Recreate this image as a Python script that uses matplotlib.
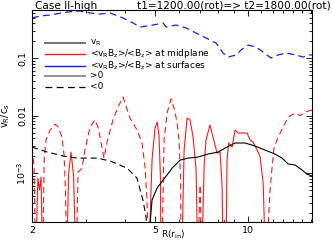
import numpy as np
import matplotlib
matplotlib.use("Agg")
import matplotlib.pyplot as plt
from matplotlib.lines import Line2D
from matplotlib.ticker import FixedLocator, NullFormatter

plt.rcParams['font.family'] = ['DejaVu Sans']
plt.rcParams['mathtext.default'] = 'regular'

# ---- data ----
R_vr = [2.0, 2.24, 2.52, 2.80, 3.25, 3.58, 4.06, 4.37, 4.57, 4.68, 4.72,
        4.75, 4.89, 5.08, 5.31, 5.59, 5.68, 6.03, 6.40, 6.89, 7.42, 8.0,
        8.55, 9.08, 9.78, 10.54, 11.35, 12.22, 12.88, 13.48, 14.2, 14.96,
        15.5, 16.1]
v_vr = [-2.83e-3, -2.32e-3, -1.98e-3, -1.82e-3, -1.82e-3, -1.62e-3, -1.22e-3,
        -8.2e-4, -3.4e-4, -1.7e-4, -5e-5,
        5e-5, 3.4e-4, 5.5e-4, 7.55e-4, 1.08e-3, 1.22e-3, 1.68e-3, 1.82e-3,
        1.90e-3, 2.14e-3, 2.32e-3, 2.83e-3, 3.33e-3, 3.33e-3, 2.95e-3,
        2.51e-3, 2.14e-3, 1.82e-3, 1.44e-3, 1.38e-3, 1.13e-3, 9.6e-4, 8.9e-4]

R_mid = [2.0, 2.03, 2.05, 2.06, 2.09, 2.115, 2.14, 2.16, 2.17, 2.19, 2.22,
         2.29, 2.375, 2.43, 2.50, 2.54, 2.566, 2.586, 2.596, 2.625, 2.674,
         2.725, 2.767, 2.787, 2.818, 2.902, 2.967, 3.08, 3.198, 3.27, 3.357,
         3.42, 3.50, 3.656, 3.795, 3.94, 4.15, 4.375, 4.54, 4.643, 4.71,
         4.75, 4.785, 4.89, 5.0, 5.08, 5.15, 5.21, 5.22, 5.27, 5.35, 5.47,
         5.635, 5.76, 5.89, 5.98, 6.05, 6.07, 6.115, 6.21, 6.35, 6.49, 6.64,
         6.79, 6.865, 6.89, 7.0, 7.07, 7.10, 7.21, 7.31, 7.53, 7.70, 7.94,
         8.12, 8.24, 8.30, 8.36, 8.39, 8.46, 8.49, 8.55, 8.65, 8.88, 9.08,
         9.29, 9.63, 9.93, 10.15, 10.38, 10.7, 10.94, 11.19, 11.35, 11.52,
         11.78, 11.96, 12.14, 12.51, 12.98, 13.48, 14.2, 14.73, 15.29, 16.1]
v_mid = [-2.7e-3, -1.4e-3, -5e-5, 5e-5, 8.2e-4, 5.06e-4, 8.5e-4, 5e-5, -5e-5,
         -1.68e-3, -3.75e-3, -5.6e-3, -7.1e-3, -6.3e-3, -4.2e-3, -2.06e-3,
         -5.06e-4, -5e-5, 5e-5, 9.2e-4, 2.32e-3, 9.2e-4, 5e-5, -5e-5,
         -1.04e-3, -1.22e-3, -2.51e-3, -6.3e-3, -8.36e-3, -6.3e-3, -3.07e-3,
         -1.82e-3, -3.46e-3, -8.36e-3, -1.41e-2, -2.1e-2, -9.06e-3, -5.6e-3,
         -3.33e-3, -1.27e-3, -3.4e-4, -5e-5, 5e-5, 1.68e-3, 6.06e-3, 7.7e-3,
         4.58e-3, 7.55e-4, 5e-5, -5e-5, -3.75e-3, -1.10e-2, -1.94e-2,
         -1.35e-2, -7.7e-3, -3.75e-3, -7.55e-4, -5e-5, 5e-5, 2.51e-3, 9.06e-3,
         8.36e-3, 4.2e-3, 1.13e-3, 5e-5, -5e-5, -6.2e-4, -5e-5, 5e-5,
         1.38e-3, 3.75e-3, 6.84e-3, 4.2e-3, 2.23e-3, 2.32e-3, 5.7e-4, 5e-5,
         -5e-5, -1.5e-4, -5e-5, 5e-5, 1.68e-3, 3.33e-3, 2.83e-3, 5.6e-3,
         4.97e-3, 4.97e-3, 4.97e-3, 3.75e-3, 3.46e-3, 2.51e-3, 1.90e-3,
         6.7e-4, 5e-5, -5e-5, -5.06e-4, -1.27e-3, -2.83e-3, -4.2e-3,
         -6.3e-3, -9.4e-3, -1.10e-2, -1.0e-2, -1.15e-2, -1.25e-2]

R_surf = [2.0, 2.12, 2.29, 2.60, 2.86, 3.08, 3.32, 3.58, 3.94, 4.25, 4.47,
          4.93, 5.31, 5.43, 5.85, 6.30, 6.79, 7.31, 7.88, 8.30, 8.62, 9.15,
          9.49, 10.0, 10.62, 11.19, 11.87, 12.51, 13.27, 14.30, 15.07, 15.76,
          16.1]
v_surf = [-0.497, -0.537, -0.56, -0.631, -0.657, -0.607, -0.582, -0.607,
          -0.497, -0.406, -0.346, -0.375, -0.406, -0.346, -0.375, -0.333,
          -0.272, -0.223, -0.182, -0.122, -0.104, -0.113, -0.138, -0.168,
          -0.155, -0.127, -0.1, -0.113, -0.122, -0.113, -0.104, -0.113,
          -0.113]

xticks_major = [2, 5, 10]
xtick_labels = ['2', '5', '10']
yticks_major = [1e-3, 1e-2, 1e-1]
ytick_labels = ['10$^{-3}$', '0.01', '0.1']

legend_labels = ['v$_R$', '<v$_R$B$_z$>/<B$_z$> at midplane',
                 '<v$_R$B$_z$>/<B$_z$> at surfaces', '>0', '<0']

# ---- figure ----
fig = plt.figure(figsize=(3.32, 2.42), dpi=100)
ax = fig.add_axes([32/332, 1-222/242, 280/332, 212/242])

DASH = (5.5, 3.5)
TINY = 1e-9


def split(v):
    v = np.asarray(v, float)
    pos = np.where(v > 0, v, TINY)
    neg = np.where(v < 0, -v, TINY)
    return pos, neg


def draw(R, v, color, lw=0.8):
    pos, neg = split(v)
    if np.any(np.asarray(v) > 0):
        ax.plot(R, pos, color=color, lw=lw, ls='-')
    if np.any(np.asarray(v) < 0):
        ax.plot(R, neg, color=color, lw=lw, ls=(0, DASH))


draw(R_mid, v_mid, '#ff1a1a', 0.8)
draw(R_vr, v_vr, 'black', 0.8)
draw(R_surf, v_surf, '#1a1aff', 0.9)

ax.set_xscale('log')
ax.set_yscale('log')
ax.set_xlim(2.0, 16.1)
ax.set_ylim(1.41e-4, 0.684)

ax.xaxis.set_major_locator(FixedLocator(xticks_major))
ax.set_xticklabels(xtick_labels)
ax.xaxis.set_minor_locator(FixedLocator([3, 4, 6, 7, 8, 9, 11, 12, 13, 14, 15, 16]))
ax.xaxis.set_minor_formatter(NullFormatter())
ax.yaxis.set_major_locator(FixedLocator(yticks_major))
ax.set_yticklabels(ytick_labels, rotation=90, va='center')
ax.yaxis.set_minor_locator(FixedLocator(
    [m * d for d in (1e-4, 1e-3, 1e-2, 1e-1) for m in range(2, 10)]))
ax.yaxis.set_minor_formatter(NullFormatter())

ax.tick_params(which='both', direction='in', top=True, right=True,
               width=0.6, labelsize=6.8, pad=3)
ax.tick_params(which='major', length=4)
ax.tick_params(which='minor', length=2.2)
for s in ax.spines.values():
    s.set_linewidth(0.8)

ax.set_xlabel('R(r$_{in}$)', fontsize=6.5)
ax.xaxis.set_label_coords(0.505, -0.058, transform=ax.transAxes)
ax.xaxis.label.set_va('center')
ax.set_ylabel('v$_R$/c$_s$', fontsize=7, labelpad=2)

fig.text(35/332, 1-9/242, 'Case II-high', fontsize=7.6, ha='left', va='baseline')
fig.text(331/332, 1-9/242, 't1=1200.00(rot)=> t2=1800.00(rot)', fontsize=7.6,
         ha='right', va='baseline')

# legend drawn as a manual key
styles = [('#666666', '-', 1.3), ('#ff1a1a', '-', 1.0), ('#1a1aff', '-', 1.0),
          ('#888888', '-', 1.3), ('black', (0, DASH), 0.9)]
ys = [43, 53.5, 65.5, 76, 86.5]
for (c, ls, lw), yy, lab in zip(styles, ys, legend_labels):
    yf = 1 - (yy - 10) / 212
    ax.add_line(Line2D([13/280, 53/280], [yf, yf], transform=ax.transAxes,
                       color=c, ls=ls, lw=lw))
    ax.text(58/280, yf, lab, transform=ax.transAxes, fontsize=6.5,
            va='center', ha='left')

fig.savefig('out.png', dpi=100)
